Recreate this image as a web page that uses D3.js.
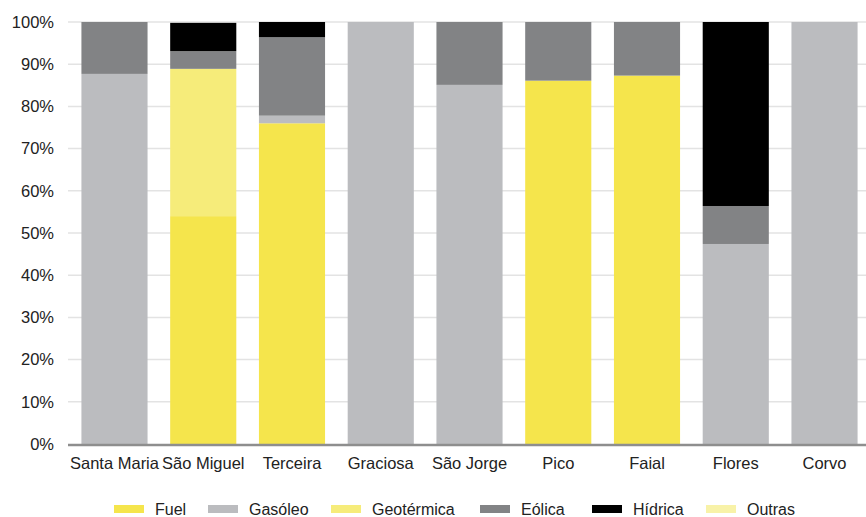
<!DOCTYPE html>
<html>
<head>
<meta charset="utf-8">
<script src="https://cdn.jsdelivr.net/npm/d3@7"></script>
<style>
  html, body { margin: 0; padding: 0; background: #fff; }
  svg { display: block; }
  text { font-family: "Liberation Sans", Arial, sans-serif; fill: #222; }
</style>
</head>
<body>
<svg id="chart" width="866" height="517"></svg>
<script>
// Electricity production by source, per island (percent of total)
const islands = ["Santa Maria", "São Miguel", "Terceira", "Graciosa", "São Jorge", "Pico", "Faial", "Flores", "Corvo"];
const sources = ["Fuel", "Gasóleo", "Geotérmica", "Eólica", "Hídrica", "Outras"];
const fuel       = [0,    54.0, 76.0, 0,   0,    86.1, 87.3, 0,    0];
const gasoleo    = [87.7, 0,    1.8,  100, 85.1, 0,    0,    47.4, 100];
const geotermica = [0,    34.9, 0,    0,   0,    0,    0,    0,    0];
const eolica     = [12.3, 4.2,  18.6, 0,   14.9, 13.9, 12.7, 9.0,  0];
const hidrica    = [0,    6.7,  3.6,  0,   0,    0,    0,    43.6, 0];
const outras     = [0,    0,    0,    0,   0,    0,    0,    0,    0];
const colors     = ["#f5e54c", "#bbbcbf", "#f6ec7a", "#828385", "#000000", "#f8f2a8"];
const yTicks     = [0, 10, 20, 30, 40, 50, 60, 70, 80, 90, 100];

const seriesValues = [fuel, gasoleo, geotermica, eolica, hidrica, outras];
const rows = islands.map((name, i) => {
  const r = { island: name };
  sources.forEach((s, k) => { r[s] = seriesValues[k][i]; });
  return r;
});

const svg = d3.select("#chart");
const margin = { top: 22, right: 0, bottom: 73, left: 69 };
const W = 866, H = 517;

const x = d3.scaleBand().domain(islands)
  .range([margin.left, W + 4]).paddingInner(0.255).paddingOuter(0.14);
const y = d3.scaleLinear().domain([0, 100]).range([H - margin.bottom, margin.top]);
const color = d3.scaleOrdinal().domain(sources).range(colors);

// gridlines
svg.append("g").selectAll("line").data(yTicks.filter(d => d > 0)).join("line")
  .attr("x1", margin.left - 1).attr("x2", W)
  .attr("y1", d => y(d)).attr("y2", d => y(d))
  .attr("stroke", "#e3e3e3").attr("stroke-width", 1.5);

// stacked bars
const stacked = d3.stack().keys(sources)(rows);
svg.append("g").selectAll("g").data(stacked).join("g")
  .attr("fill", d => color(d.key))
  .selectAll("rect").data(d => d).join("rect")
  .attr("x", d => x(d.data.island))
  .attr("width", x.bandwidth())
  .attr("y", d => y(d[1]))
  .attr("height", d => Math.max(0, y(d[0]) - y(d[1])));

// baseline
svg.append("line")
  .attr("x1", margin.left - 1).attr("x2", W)
  .attr("y1", y(0) + 1).attr("y2", y(0) + 1)
  .attr("stroke", "#8e8e8e").attr("stroke-width", 2.5);

// y axis labels
const yAxis = d3.axisLeft(y).tickValues(yTicks).tickFormat(d => d + "%").tickSize(0).tickPadding(0);
const gy = svg.append("g").attr("transform", `translate(${margin.left - 15},0)`).call(yAxis);
gy.select(".domain").remove();
gy.selectAll("text").attr("font-size", 16.5).attr("font-family", "Liberation Sans, Arial, sans-serif").attr("fill", "#222");

// x axis labels
const xAxis = d3.axisBottom(x).tickSize(0).tickPadding(0);
const gx = svg.append("g").attr("transform", `translate(0,${y(0) + 13})`).call(xAxis);
gx.select(".domain").remove();
gx.selectAll("text").attr("font-size", 16.5).attr("font-family", "Liberation Sans, Arial, sans-serif").attr("fill", "#222");

// legend
const legendX = [114, 208, 331, 480, 592, 706];
const lg = svg.append("g").selectAll("g").data(sources).join("g")
  .attr("transform", (d, i) => `translate(${legendX[i]},505)`);
lg.append("rect").attr("width", 30).attr("height", 8).attr("fill", d => color(d));
lg.append("text").attr("x", 41).attr("y", 9.5).attr("font-size", 16).text(d => d);
</script>
</body>
</html>
